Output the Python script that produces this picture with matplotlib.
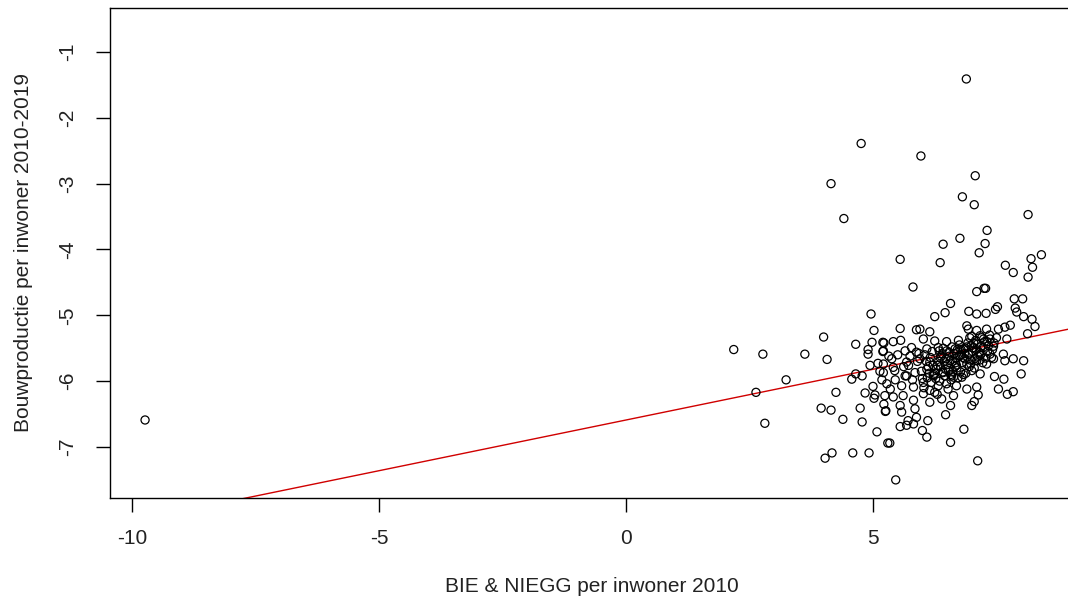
import matplotlib
matplotlib.use("Agg")
import matplotlib.pyplot as plt
import numpy as np

plt.rcParams['font.family'] = ['Liberation Sans', 'DejaVu Sans']

# --- data ---
outliers_x = [-9.74, 6.89, 4.76, 5.97, 7.07, 4.15, 6.81, 7.05, 8.14, 4.41, 7.31, 6.76, 6.42, 7.27,
              7.15, 8.41, 5.55, 6.36, 8.20, 7.68, 7.84, 8.23, 8.14]
outliers_y = [-6.59, -1.41, -2.39, -2.58, -2.88, -3.00, -3.20, -3.32, -3.47, -3.53, -3.71, -3.83, -3.92, -3.91,
              -4.05, -4.08, -4.15, -4.20, -4.14, -4.24, -4.35, -4.27, -4.42]

left_x = [4.96, 5.02, 4.00, 4.65, 4.98, 5.20, 2.18, 2.77, 3.62, 4.07, 4.90, 4.90, 5.20, 4.94, 5.10,
          3.24, 2.63, 2.81, 4.25, 3.95, 4.15, 4.39, 4.74, 4.78, 5.08, 5.30, 4.03, 4.17, 4.59, 4.92,
          4.57, 4.78, 4.84, 5.00, 5.04, 5.02, 5.22, 5.26, 4.65, 5.14, 5.18]
left_y = [-4.98, -5.23, -5.33, -5.44, -5.41, -5.41, -5.52, -5.59, -5.59, -5.67, -5.52, -5.59, -5.55, -5.76, -5.73,
          -5.98, -6.17, -6.64, -6.17, -6.41, -6.44, -6.58, -6.41, -6.62, -6.77, -6.94, -7.17, -7.09, -7.09, -7.09,
          -5.97, -5.92, -6.18, -6.08, -6.21, -6.26, -6.35, -6.45, -5.89, -5.85, -5.98]

upper_x = [5.81, 7.10, 7.25, 7.28, 6.57, 6.46, 6.25, 6.94, 7.10, 7.29, 7.48, 7.52, 7.86, 8.03, 7.88,
           7.91, 8.05, 8.22, 8.28, 8.13]
upper_y = [-4.57, -4.64, -4.59, -4.59, -4.82, -4.96, -5.02, -4.94, -4.98, -4.97, -4.91, -4.87, -4.75, -4.75, -4.89,
           -4.95, -5.02, -5.06, -5.17, -5.28]

cluster_x = [5.55, 5.88, 5.95, 6.15, 6.93, 7.10, 7.30, 7.54, 7.67, 7.78, 6.90,
             5.22, 5.41, 5.56, 5.78, 6.02, 6.25, 6.49, 6.73, 6.96, 7.17, 7.37, 7.50, 7.71,
             5.21, 5.38, 5.65, 5.88, 6.09, 6.32, 6.49, 6.66, 6.83, 7.03, 7.23, 7.44, 6.76, 6.93, 7.17, 7.37, 7.64,
             5.21, 5.41, 5.68, 5.95, 6.15, 6.36, 6.56, 6.69, 6.90, 7.10, 7.30, 7.44, 7.67, 7.84, 8.05,
             5.21, 5.44, 5.65, 5.85, 6.09, 6.22, 6.42, 6.59, 6.80, 7.00, 7.17, 7.46, 7.65, 8.00,
             5.28, 5.58, 5.82, 6.02, 6.15, 6.32, 6.49, 6.69, 6.90, 7.10, 7.54, 6.25,
             5.24, 5.41, 5.61, 5.82, 6.02, 6.15, 6.39, 6.63, 7.05, 7.13, 7.00, 6.57, 7.72, 7.84, 5.25, 5.55, 5.85,
             5.58, 5.71, 5.82, 6.11, 6.47, 5.88, 5.68,
             5.55, 6.00, 6.09, 6.84, 6.57, 5.34, 7.12, 5.46]
cluster_y = [-5.20, -5.22, -5.21, -5.25, -5.21, -5.23, -5.21, -5.21, -5.18, -5.15, -5.16,
             -5.42, -5.40, -5.38, -5.49, -5.36, -5.39, -5.40, -5.38, -5.34, -5.31, -5.36, -5.34, -5.36,
             -5.54, -5.66, -5.54, -5.56, -5.51, -5.49, -5.54, -5.51, -5.51, -5.49, -5.49, -5.47, -5.61, -5.59, -5.61, -5.59, -5.59,
             -5.74, -5.79, -5.71, -5.66, -5.71, -5.64, -5.69, -5.76, -5.74, -5.69, -5.74, -5.66, -5.69, -5.66, -5.69,
             -5.87, -5.84, -5.92, -5.87, -5.82, -5.92, -5.87, -5.92, -5.94, -5.84, -5.89, -5.93, -5.97, -5.89,
             -6.04, -6.07, -6.09, -6.02, -6.14, -6.07, -6.04, -6.07, -6.12, -6.09, -6.12, -6.17,
             -6.22, -6.24, -6.22, -6.29, -6.19, -6.32, -6.27, -6.22, -6.31, -6.21, -6.37, -6.37, -6.20, -6.16, -6.46, -6.37, -6.42,
             -6.47, -6.60, -6.65, -6.60, -6.51, -6.55, -6.67,
             -6.69, -6.75, -6.85, -6.73, -6.93, -6.94, -7.21, -7.50]

core_x = [6.05, 6.12, 6.20, 6.28, 6.33, 6.40, 6.45, 6.50, 6.55, 6.60, 6.62, 6.68, 6.72, 6.75, 6.80,
          6.85, 6.88, 6.92, 6.97, 7.02, 7.05, 7.08, 7.12, 7.18, 7.22, 7.26, 7.32, 7.36, 7.40, 7.45,
          6.10, 6.18, 6.25, 6.35, 6.42, 6.47, 6.58, 6.64, 6.70, 6.78, 6.83, 6.95, 7.00, 7.15, 7.28,
          5.90, 5.98, 5.75, 5.68, 5.62, 6.03, 6.30, 6.52, 5.80, 5.50, 5.45, 5.32, 5.35,
          6.08, 6.16, 6.23, 6.31, 6.38, 6.44, 6.53, 6.61, 6.66, 6.74, 6.82, 6.87, 6.94, 6.99, 7.06,
          7.11, 7.19, 7.24, 7.34, 7.42, 6.14, 6.27, 6.37, 6.48, 6.57, 6.67, 6.77, 6.86, 6.98, 7.09,
          7.20, 7.31, 6.22, 6.41, 6.54, 6.71, 6.90, 7.04, 7.16, 6.34, 6.63, 6.79, 5.93, 6.00, 5.72]
core_y = [-5.60, -5.78, -5.55, -5.82, -5.70, -5.58, -5.92, -5.75, -5.62, -5.48, -5.85, -5.65, -5.95, -5.45, -5.72,
          -5.58, -5.88, -5.42, -5.68, -5.55, -5.80, -5.38, -5.62, -5.48, -5.72, -5.40, -5.55, -5.30, -5.64, -5.42,
          -5.95, -6.02, -5.88, -6.00, -5.50, -5.82, -5.98, -5.58, -5.80, -5.52, -5.90, -5.78, -5.32, -5.56, -5.65,
          -5.70, -5.85, -5.62, -5.92, -5.78, -6.10, -6.20, -6.12, -5.98, -5.60, -5.98, -5.62, -6.12,
          -5.70, -5.64, -5.90, -5.76, -5.62, -5.70, -5.84, -5.70, -5.78, -5.62, -5.64, -5.50, -5.60, -5.46, -5.66,
          -5.44, -5.58, -5.36, -5.46, -5.52, -5.88, -5.96, -5.78, -5.66, -5.90, -5.72, -5.86, -5.66, -5.74, -5.52,
          -5.34, -5.40, -5.76, -5.86, -5.56, -5.52, -5.48, -5.42, -5.68, -5.54, -5.94, -5.60, -5.58, -5.96, -5.76]

x_all = outliers_x + left_x + upper_x + cluster_x + core_x
y_all = outliers_y + left_y + upper_y + cluster_y + core_y

fit_intercept = -6.59
fit_slope = 0.154

x_ticks = [-10, -5, 0, 5]
y_ticks = [-1, -2, -3, -4, -5, -6, -7]
x_label = "BIE & NIEGG per inwoner 2010"
y_label = "Bouwproductie per inwoner 2010-2019"

# --- figure ---
W, H = 1068, 597
fig = plt.figure(figsize=(W / 100, H / 100), dpi=100)
left_px, right_px, top_px, bottom_px = 110, 1074, 8, 498
ax = fig.add_axes([left_px / W, 1 - bottom_px / H, (right_px - left_px) / W, (bottom_px - top_px) / H])

ax.scatter(x_all, y_all, s=34, facecolors='none', edgecolors='black', linewidths=0.9, zorder=3)

xs = np.array([-11.0, 10.0])
ax.plot(xs, fit_intercept + fit_slope * xs, color='#d00000', lw=1.0, zorder=2)

ax.set_xlim(-10.45, 9.07)
ax.set_ylim(-7.775, -0.332)
ax.set_xticks(x_ticks)
ax.set_xticklabels([str(t) for t in x_ticks])
ax.set_yticks(y_ticks)
ax.set_yticklabels([str(t) for t in y_ticks], rotation=90, va='center')

for sp in ax.spines.values():
    sp.set_linewidth(1.0)
    sp.set_color('black')

txt_col = '#222222'
ax.tick_params(axis='both', direction='out', length=10, width=1.0, labelsize=15,
               color='black', labelcolor=txt_col)
ax.tick_params(axis='x', pad=12)
ax.tick_params(axis='y', pad=14)

fig.text(592 / W, 1 - 587 / H, x_label, ha='center', va='center', fontsize=15, color=txt_col)
fig.text(24 / W, 1 - 253 / H, y_label, ha='center', va='center', rotation=90, fontsize=15, color=txt_col)

fig.savefig("out.png", dpi=100)
